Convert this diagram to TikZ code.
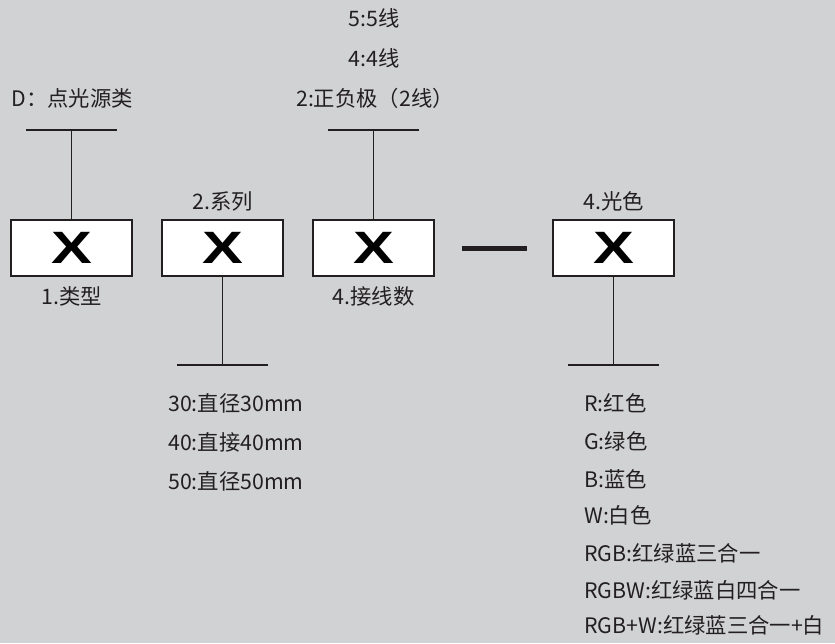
\documentclass[tikz,border=0pt]{standalone}
\usepackage{fontspec}
\setmainfont{Noto Sans CJK SC}
\newfontfamily\xfont{Liberation Sans}
\usetikzlibrary{positioning}
\definecolor{bggray}{HTML}{D1D2D4}
\definecolor{ink}{HTML}{231F20}
\tikzset{codebox/.style={draw=ink, fill=white, line width=1pt,
         minimum width=90.75pt, minimum height=42pt, inner sep=0pt,
         font=\xfont\bfseries\fontsize{34}{34}\selectfont},
         lbl/.style={text=ink, inner sep=0pt, font=\fontsize{16}{18}\selectfont},
         bar/.style={draw=ink, line width=1pt}}
\newcommand{\bigX}{\scalebox{1.35}[1]{X}}

\begin{document}
\begin{tikzpicture}[x=0.75pt,y=-0.75pt]
  \useasboundingbox[fill=bggray] (0,0) rectangle (835,643);

  % code boxes
  \node[codebox] (b1) at (71.5,248) {\bigX};
  \node[codebox] (b2) at (222.5,248) {\bigX};
  \node[codebox] (b3) at (373.5,248) {\bigX};
  \node[codebox] (b4) at (613.5,248) {\bigX};

  \node[lbl, below=7pt of b1] (n1) {1.类型};
  \node[lbl, above=6pt of b2] (n2) {2.系列};
  \node[lbl, below=7pt of b3] (n3) {4.接线数};
  \node[lbl, above=6pt of b4] (n4) {4.光色};

  % separator
  \coordinate (d1) at (462,248);
  \coordinate (d2) at (527,248);
  \draw[ink, line width=3.75pt] (d1) -- (d2);

  % bars
  \coordinate (t1) at (71.5,130);
  \coordinate (t3) at (373.5,130);
  \coordinate (u2) at (222.5,365);
  \coordinate (u4) at (613.5,365);
  \draw[bar] (b1.north) -- (t1);
  \draw[bar] ([xshift=-34pt]t1) -- ([xshift=34pt]t1);
  \draw[bar] (b3.north) -- (t3);
  \draw[bar] ([xshift=-34pt]t3) -- ([xshift=34pt]t3);
  \draw[bar] (b2.south) -- (u2);
  \draw[bar] ([xshift=-34pt]u2) -- ([xshift=34pt]u2);
  \draw[bar] (b4.south) -- (u4);
  \draw[bar] ([xshift=-34pt]u4) -- ([xshift=34pt]u4);

  % options
  \node[lbl] (o1) at (72,98) {D：点光源类};
  \node[lbl] (o3a) at (375,98) {2:正负极（2线）};
  \node[lbl] (o3b) at (374,58) {4:4线};
  \node[lbl] (o3c) at (374,18) {5:5线};

  \node[lbl, anchor=west] (o2a) at (168,403) {30:直径30mm};
  \node[lbl, anchor=west] (o2b) at (168,442) {40:直接40mm};
  \node[lbl, anchor=west] (o2c) at (168,481) {50:直径50mm};

  \node[lbl, anchor=west] (o4a) at (584,403) {R:红色};
  \node[lbl, anchor=west] (o4b) at (584,441) {G:绿色};
  \node[lbl, anchor=west] (o4c) at (584,479) {B:蓝色};
  \node[lbl, anchor=west] (o4d) at (584,515) {W:白色};
  \node[lbl, anchor=west] (o4e) at (584,553) {RGB:红绿蓝三合一};
  \node[lbl, anchor=west] (o4f) at (584,590) {RGBW:红绿蓝白四合一};
  \node[lbl, anchor=west] (o4g) at (584,625) {RGB+W:红绿蓝三合一+白};
\end{tikzpicture}
\end{document}
